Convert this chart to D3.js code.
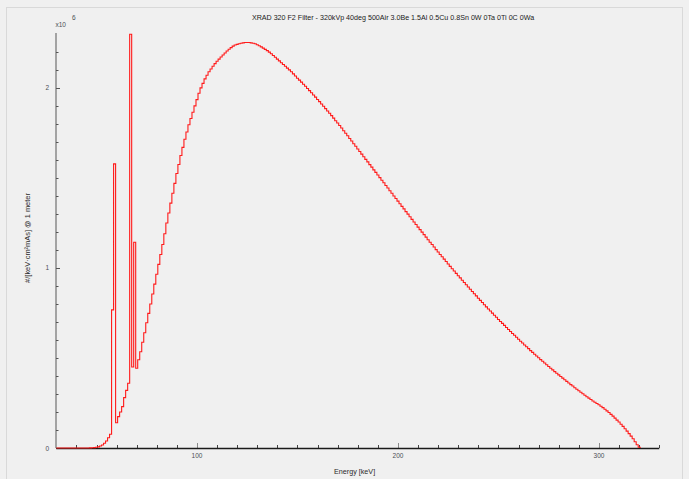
<!DOCTYPE html>
<html>
<head>
<meta charset="utf-8">
<script src="https://cdn.jsdelivr.net/npm/d3@7"></script>
<style>
  html, body { margin: 0; padding: 0; background: #f0f0f0; }
  svg { display: block; }
  text { font-family: "Liberation Sans", Arial, sans-serif; }
</style>
</head>
<body>
<svg id="chart" width="689" height="479"></svg>
<script>
// ---------------- DATA ----------------
const titleText = "XRAD 320 F2 Filter - 320kVp 40deg 500Air 3.0Be 1.5Al 0.5Cu 0.8Sn 0W 0Ta 0Ti 0C 0Wa";
const xLabel = "Energy [keV]";
const yLabel = "#/[keV·cm²mAs] @ 1 meter";
const yExponent = "6";
const xTickLabels = [100, 200, 300];
const yTickLabels = [0, 1, 2];
const energyDomain = [30, 330];
const firstBinEnergy = 30;   // keV, bins of 1 keV centred on integers
// photon counts per bin, in units of 10^6
const counts = [
  // 30-39
  0,0,0,0,0,0,0,0,0,0,
  // 40-49
  0,0,0,0,0,0,0,0.0005,0.001,0.002,
  // 50-59
  0.004,0.006,0.011,0.017,0.026,0.039,0.057,0.076,0.767,1.578,
  // 60-69
  0.14,0.174,0.20,0.23,0.28,0.32,0.36,2.298,0.45,1.143,
  // 70-79
  0.443,0.49,0.535,0.587,0.64,0.696,0.748,0.80,0.855,0.91,
  // 80-89
  0.965,1.02,1.075,1.13,1.19,1.25,1.305,1.36,1.415,1.47,
  // 90-99
  1.525,1.575,1.625,1.67,1.715,1.755,1.795,1.83,1.865,1.90,
  // 100-109
  1.935,1.97,2.0,2.025,2.05,2.07,2.09,2.105,2.12,2.135,
  // 110-119
  2.148,2.16,2.172,2.183,2.194,2.205,2.215,2.224,2.232,2.238,
  // 120-129
  2.242,2.245,2.248,2.25,2.252,2.252,2.252,2.25,2.248,2.245,
  // 130-139
  2.24,2.234,2.228,2.221,2.214,2.207,2.199,2.19,2.18,2.17,
  // 140-149
  2.16,2.15,2.14,2.13,2.12,2.11,2.1,2.09,2.078,2.066,
  // 150-159
  2.054,2.043,2.032,2.020,2.009,1.997,1.985,1.973,1.961,1.949,
  // 160-169
  1.936,1.924,1.911,1.898,1.885,1.872,1.859,1.846,1.832,1.818,
  // 170-179
  1.805,1.791,1.777,1.762,1.748,1.734,1.719,1.705,1.690,1.676,
  // 180-189
  1.661,1.647,1.632,1.618,1.603,1.589,1.574,1.560,1.545,1.531,
  // 190-199
  1.516,1.502,1.487,1.473,1.458,1.444,1.429,1.415,1.400,1.386,
  // 200-209
  1.371,1.357,1.342,1.328,1.313,1.299,1.284,1.270,1.255,1.241,
  // 210-219
  1.227,1.213,1.199,1.185,1.171,1.157,1.143,1.130,1.116,1.102,
  // 220-229
  1.089,1.075,1.062,1.049,1.036,1.022,1.009,0.996,0.983,0.970,
  // 230-239
  0.957,0.945,0.932,0.919,0.907,0.894,0.882,0.869,0.857,0.845,
  // 240-249
  0.832,0.820,0.808,0.796,0.784,0.772,0.761,0.749,0.737,0.726,
  // 250-259
  0.714,0.703,0.692,0.681,0.669,0.658,0.647,0.636,0.626,0.615,
  // 260-269
  0.604,0.593,0.583,0.572,0.562,0.552,0.541,0.531,0.521,0.511,
  // 270-279
  0.501,0.491,0.482,0.472,0.462,0.453,0.443,0.434,0.424,0.415,
  // 280-289
  0.406,0.397,0.388,0.379,0.370,0.361,0.352,0.344,0.335,0.326,
  // 290-299
  0.318,0.310,0.301,0.293,0.285,0.277,0.269,0.261,0.254,0.247,
  // 300-309
  0.240,0.232,0.224,0.215,0.206,0.197,0.187,0.177,0.166,0.155,
  // 310-320
  0.144,0.132,0.120,0.107,0.094,0.080,0.066,0.051,0.035,0.018,0.004
];

// ---------------- DRAW ----------------
const svg = d3.select("#chart");

// window frame
svg.append("rect")
  .attr("x", 6.5).attr("y", 7.5).attr("width", 676).attr("height", 480)
  .attr("fill", "none").attr("stroke", "#d9d9d9").attr("stroke-width", 1);

const x = d3.scaleLinear().domain(energyDomain).range([56.3, 659.3]);
const y = d3.scaleLinear().domain([0, 2.305]).range([448, 33]);

// title
const title = svg.append("text")
  .attr("x", 393).attr("y", 19.5)
  .attr("text-anchor", "middle")
  .attr("font-size", 8)
  .attr("fill", "#1a1a1a")
  .text(titleText);
const tw = title.node().getComputedTextLength();
title.attr("font-size", 8 * 283 / tw);

// y axis
const yAxisG = svg.append("g").attr("transform", "translate(56,0)");
yAxisG.append("line")
  .attr("x1", 0).attr("x2", 0).attr("y1", y(2.305)).attr("y2", y(0))
  .attr("stroke", "#8a8a8a").attr("stroke-width", 1.5);
const yMinor = d3.range(0, 23).map(i => i / 10);
yAxisG.selectAll("line.ytick")
  .data(yMinor)
  .join("line")
  .attr("class", "ytick")
  .attr("x1", 0)
  .attr("x2", d => (Math.abs(d - Math.round(d)) < 1e-6 ? 4 : 2.5))
  .attr("y1", d => Math.round(y(d)) + 0.5)
  .attr("y2", d => Math.round(y(d)) + 0.5)
  .attr("stroke", "#555").attr("stroke-width", 1);
yAxisG.selectAll("text.ylab")
  .data(yTickLabels)
  .join("text")
  .attr("class", "ylab")
  .attr("x", -7)
  .attr("y", d => y(d) + 2.5)
  .attr("text-anchor", "end")
  .attr("font-size", 6.5)
  .attr("fill", "#4a4f55")
  .text(d => d);

// exponent
svg.append("text").attr("x", 55.5).attr("y", 27)
  .attr("font-size", 6.5).attr("fill", "#4a4f55").text("x10");
svg.append("text").attr("x", 72).attr("y", 20)
  .attr("font-size", 6.5).attr("fill", "#4a4f55").text(yExponent);

// y label
const yl = svg.append("text")
  .attr("transform", "translate(29.5,238) rotate(-90)")
  .attr("text-anchor", "middle")
  .attr("font-size", 7.5)
  .attr("fill", "#2a2a2a")
  .text(yLabel);
const ylw = yl.node().getComputedTextLength();
yl.attr("font-size", 7.5 * 90 / ylw);

// x axis
const xAxisG = svg.append("g");
const xMinor = d3.range(40, 331, 10);
xAxisG.selectAll("line.xtick")
  .data(xMinor)
  .join("line")
  .attr("class", "xtick")
  .attr("x1", d => Math.round(x(d)) + 0.5)
  .attr("x2", d => Math.round(x(d)) + 0.5)
  .attr("y1", 448)
  .attr("y2", d => (d % 100 === 0 ? 443 : 445))
  .attr("stroke", d => (d % 100 === 0 ? "#8a8a8a" : "#444"))
  .attr("stroke-width", 1);
xAxisG.append("line")
  .attr("x1", x(energyDomain[0])).attr("x2", x(energyDomain[1]))
  .attr("y1", 448.5).attr("y2", 448.5)
  .attr("stroke", "#1a1a1a").attr("stroke-width", 1.5);
xAxisG.selectAll("text.xlab")
  .data(xTickLabels)
  .join("text")
  .attr("class", "xlab")
  .attr("x", d => x(d))
  .attr("y", 458)
  .attr("text-anchor", "middle")
  .attr("font-size", 6.5)
  .attr("fill", "#4a4f55")
  .text(d => d);

svg.append("text")
  .attr("x", 334).attr("y", 474)
  .attr("font-size", 7.2)
  .attr("fill", "#2a2a2a")
  .text(xLabel);

// spectrum as step histogram
const pts = [[energyDomain[0], counts[0]]];
counts.forEach((v, i) => {
  const e = firstBinEnergy + i;
  if (i > 0) pts.push([e - 0.5, v]);
});
const lastE = firstBinEnergy + counts.length - 1;
pts.push([lastE + 0.5, counts[counts.length - 1]]);
pts.push([lastE + 0.5, 0]);

const line = d3.line()
  .x(d => x(d[0]))
  .y(d => y(d[1]))
  .curve(d3.curveStepAfter);

svg.append("path")
  .datum(pts)
  .attr("d", line)
  .attr("fill", "none")
  .attr("stroke", "#ff1a1a")
  .attr("stroke-width", 1.1);
</script>
</body>
</html>
